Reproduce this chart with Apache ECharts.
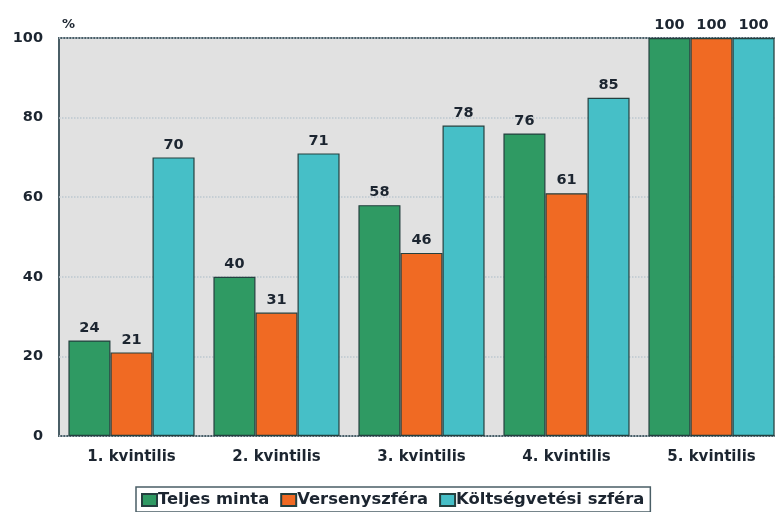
<!DOCTYPE html>
<html>
<head>
<meta charset="utf-8">
<script src="https://cdn.jsdelivr.net/npm/echarts@6/dist/echarts.min.js"></script>
<style>
  html, body { margin: 0; padding: 0; background: #ffffff; }
  #chart { width: 775px; height: 512px; }
</style>
</head>
<body>
<div id="chart"></div>
<script>
const categories = ['1. kvintilis', '2. kvintilis', '3. kvintilis', '4. kvintilis', '5. kvintilis']
const teljesMinta = [24, 40, 58, 76, 100]
const versenyszfera = [21, 31, 46, 61, 100]
const koltsegvetesi = [70, 71, 78, 85, 100]
const yTicks = [0, 20, 40, 60, 80, 100]

const FONT = 'DejaVu Sans'
const TEXT = '#1c2530'

const chart = echarts.init(document.getElementById('chart'))

const labelStyle = {
  show: true,
  position: 'top',
  distance: 5,
  fontFamily: FONT,
  fontWeight: 'bold',
  fontSize: 14.5,
  color: TEXT,
}

function bar(name, data, color) {
  return {
    name,
    type: 'bar',
    data,
    barGap: '0%',
    barCategoryGap: '13%',
    itemStyle: { color, borderColor: '#24403f', borderWidth: 1.2 },
    label: labelStyle,
  }
}

chart.setOption({
  animation: false,
  grid: {
    left: 59,
    top: 38,
    width: 725,
    height: 398,
    outerBoundsMode: 'none',
    containLabel: false,
    show: true,
    backgroundColor: '#e1e1e1',
    borderColor: '#4a5e66',
    borderWidth: 2,
  },
  legend: {
    bottom: 0,
    left: 136,
    itemWidth: 15,
    itemHeight: 12,
    itemGap: 11,
    padding: [5, 6, 4, 5],
    borderColor: '#4a5e66',
    borderWidth: 1.5,
    icon: 'rect',
    textStyle: { fontFamily: FONT, fontWeight: 'bold', fontSize: 16.4, color: TEXT, padding: [0, 0, 0, -4] },
    data: ['Teljes minta', 'Versenyszféra', 'Költségvetési szféra'],
  },
  xAxis: {
    type: 'category',
    data: categories,
    axisLine: { show: false },
    axisTick: { show: false },
    axisLabel: { fontFamily: FONT, fontWeight: 'bold', fontSize: 15, color: TEXT, margin: 14 },
  },
  yAxis: {
    type: 'value',
    min: yTicks[0],
    max: yTicks[yTicks.length - 1],
    interval: 20,
    name: '%',
    nameLocation: 'end',
    nameGap: 7,
    nameTextStyle: { fontFamily: FONT, fontWeight: 'bold', fontSize: 13, color: TEXT, align: 'left', padding: [0, 0, 0, 3] },
    axisLine: { show: false },
    axisTick: { show: false },
    axisLabel: { fontFamily: FONT, fontWeight: 'bold', fontSize: 14.5, color: TEXT, margin: 16 },
    splitLine: { show: true, lineStyle: { color: '#bcc8d0', type: 'dotted', width: 1.5 } },
  },
  series: [
    bar('Teljes minta', teljesMinta, '#2f9a63'),
    bar('Versenyszféra', versenyszfera, '#f06a23'),
    bar('Költségvetési szféra', koltsegvetesi, '#46bfc7'),
  ],
})
</script>
</body>
</html>
